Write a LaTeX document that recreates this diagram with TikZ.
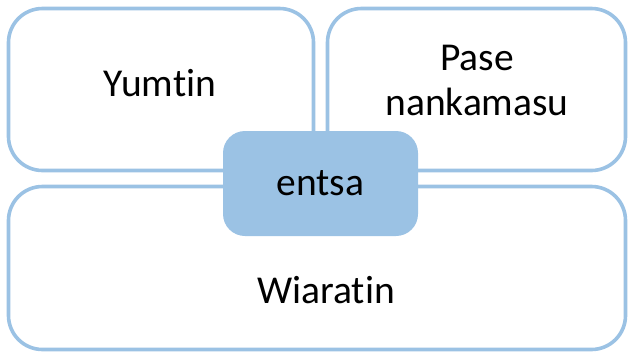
\documentclass[tikz,border=0pt]{standalone}
\usepackage{fontspec}
\setmainfont{Carlito}[Ligatures={NoCommon,NoContextual}]
\definecolor{bleu}{RGB}{155,194,228}
\tikzset{
  cadre/.style={draw=bleu,line width=3.6pt,rounded corners=34pt,inner sep=0pt},
  centre/.style={fill=bleu,rounded corners=22pt,inner sep=0pt,minimum width=195pt,minimum height=105pt},
  texte/.style={font=\fontsize{39.5}{45}\selectfont,align=center,inner sep=0pt}
}
\begin{document}
\begin{tikzpicture}[x=1pt,y=-1pt]
    \useasboundingbox (0,0) rectangle (631,354);
    \node [cadre,minimum width=305pt,minimum height=162pt] (yumtinbox) at (161,89.5) {};
    \node [cadre,minimum width=298pt,minimum height=162pt] (pasebox) at (476.5,89.5) {};
    \node [cadre,minimum width=617pt,minimum height=163pt] (wiaratinbox) at (317,268) {};
    \node [centre] (entsa) at (320.5,183.5) {};%boite du milieu par-dessus
    \node [texte] (yumtin) at (160,83) {Yumtin};
    \node [texte] (pase) at (477,80) {Pase\\nankamasu};
    \node [texte] (wiaratin) at (326,290) {Wiaratin};
    \node [texte] (entsalbl) at (entsa.center) {entsa};
\end{tikzpicture}
\end{document}
